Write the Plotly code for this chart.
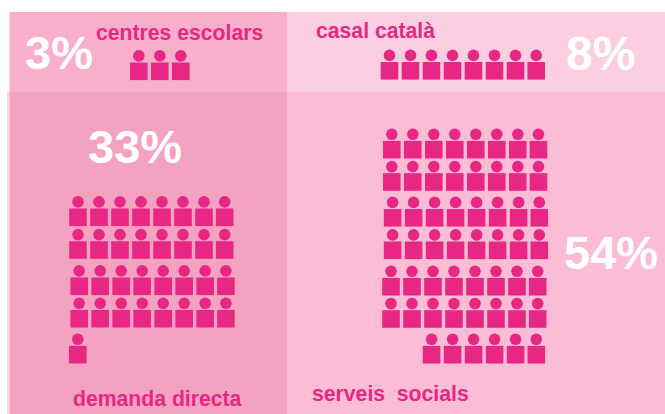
import plotly.graph_objects as go

# ---- data ----
categories = ["centres escolars", "casal català", "demanda directa", "serveis  socials"]
percent_labels = ["3%", "8%", "33%", "54%"]
# people drawn per row, for each category
people_centres = [3]
people_casal = [8]
people_demanda = [8, 8, 8, 8, 1]
people_serveis = [8, 8, 8, 8, 8, 8, 6]

# ---- layout (pixel-like plot units) ----
W, H = 665, 414
PINK = "#E72783"
WHITE = "#FFFFFF"
PANELS = [
    (9.5, 12, 287, 92, "#F7AFCB"),
    (287, 12, 665, 92, "#FBCFE1"),
    (7, 92, 9.5, 414, "#FBD5E4"),
    (9.5, 92, 287, 414, "#F4A2C1"),
    (287, 92, 665, 414, "#FABDD5"),
]
COL_STEP = [0, 21, 42, 63, 84, 105, 126, 146.7]
# (first-column centre x, body centre y) per row
ROWS = {
    "centres": [(138.8, 71.3)],
    "casal": [(389.5, 70.8)],
    "demanda": [(78, 217.3), (78, 250), (79.2, 286.3), (79.2, 318.7), (77.8, 354.7)],
    "serveis": [(391.8, 149.7), (391.8, 182), (392.6, 217.8), (392.6, 250.3),
                (391, 286.7), (391, 319), (431.6, 354.7)],
}
HEAD_UP = 15.4
BODY = 17.6
HEAD = 11.6
# the 6-person row is right-aligned to the grid, so it starts at the third column
COL_OFFSET = {"serveis": {6: 2}}


def row_xy(rows, counts, key):
    xs, ys = [], []
    for (x0, y0), n in zip(rows, counts):
        base = COL_OFFSET.get(key, {}).get(n, 0)
        for i in range(n):
            xs.append(x0 + COL_STEP[i + base] - COL_STEP[base])
            ys.append(y0)
    return xs, ys


fig = go.Figure()
for key, counts, name in [
    ("centres", people_centres, categories[0]),
    ("casal", people_casal, categories[1]),
    ("demanda", people_demanda, categories[2]),
    ("serveis", people_serveis, categories[3]),
]:
    xs, ys = row_xy(ROWS[key], counts, key)
    fig.add_trace(go.Scatter(x=xs, y=ys, mode="markers", name=name, hoverinfo="skip",
                             marker=dict(symbol="square", size=BODY, color=PINK, line_width=0)))
    fig.add_trace(go.Scatter(x=xs, y=[y - HEAD_UP for y in ys], mode="markers", name=name, hoverinfo="skip",
                             marker=dict(symbol="circle", size=HEAD, color=PINK, line_width=0)))

shapes = [dict(type="rect", x0=a, y0=b, x1=c, y1=d, fillcolor=col, line_width=0, layer="below")
          for a, b, c, d, col in PANELS]

FONT = "Liberation Sans, Arial, sans-serif"
annotations = []
for text, x, y in zip(categories, [96, 315.5, 72.5, 311.5], [32, 30, 398.5, 393.5]):
    annotations.append(dict(x=x, y=y, text=f"<b>{text.replace('  ', '&nbsp; ')}</b>", xanchor="left", yanchor="middle",
                            showarrow=False, font=dict(family=FONT, size=21.2, color=PINK)))
for text, x, y, s in zip(percent_labels, [25, 566, 88, 564], [52, 53, 146, 252], [47, 48, 47, 47]):
    annotations.append(dict(x=x, y=y, text=f"<b>{text}</b>", xanchor="left", yanchor="middle",
                            showarrow=False, font=dict(family=FONT, size=s, color=WHITE)))
for a in annotations:
    a.update(xref="x", yref="y", borderpad=0, borderwidth=0)

fig.update_layout(
    width=W, height=H, autosize=False, showlegend=False,
    margin=dict(l=0, r=0, t=0, b=0, pad=0),
    paper_bgcolor="#FFFFFF", plot_bgcolor="rgba(0,0,0,0)",
    xaxis=dict(range=[0, W], visible=False, fixedrange=True),
    yaxis=dict(range=[H, 0], visible=False, fixedrange=True),
    shapes=shapes, annotations=annotations,
)
fig.write_html("out.html", config={"displayModeBar": False},
               post_script="document.body.style.margin='0';")
